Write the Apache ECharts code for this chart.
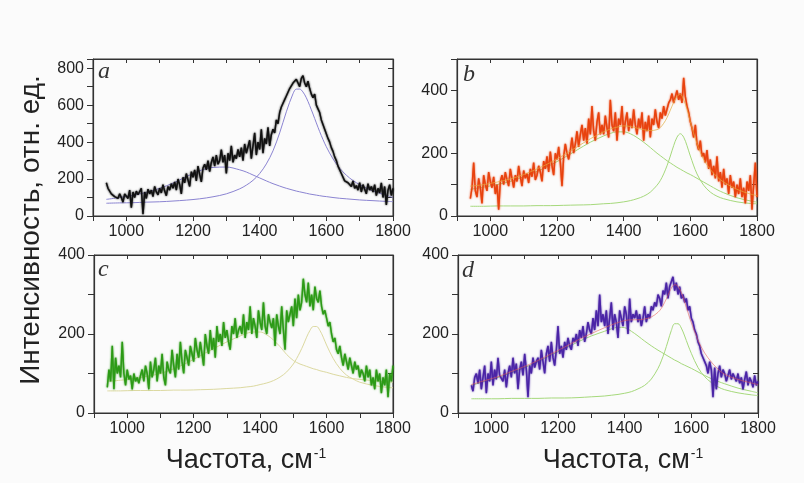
<!DOCTYPE html>
<html>
<head>
<meta charset="utf-8">
<script src="https://cdn.jsdelivr.net/npm/echarts@6/dist/echarts.min.js"></script>
<style>
html,body{margin:0;padding:0;background:#fbfbfb;}
#chart{width:804px;height:483px;}
</style>
</head>
<body>
<div id="chart"></div>
<script>
// spectra sampled every 5 cm-1 starting at 940 cm-1
const waveStart = 940;
const waveStep = 5;

const spectrumA = [
180,150,135,120,115,105,110,95,120,100,75,120,110,95,140,45,130,100,135,115,
110,150,10,130,95,145,120,140,105,160,130,115,150,125,170,135,110,160,140,175,
150,185,140,200,170,120,210,180,230,195,160,240,210,250,190,270,225,185,260,280,
250,300,240,290,320,270,330,280,300,360,290,330,230,340,300,380,290,330,310,360,
320,370,300,390,340,350,410,310,380,450,330,400,360,470,340,420,390,480,380,440,
470,450,520,500,560,590,580,630,650,640,690,700,720,710,740,720,700,745,760,720,
700,730,690,660,640,660,600,580,560,520,510,470,460,420,400,370,350,320,300,270,
260,230,220,190,200,180,175,160,190,150,165,140,180,130,170,145,120,175,140,160,
130,170,110,150,125,180,100,160,60,140,170,110,150];

const spectrumB = [
55,90,170,80,60,120,90,40,130,100,80,140,110,90,125,70,100,20,110,130,
100,140,115,95,150,120,90,130,110,160,125,95,145,120,135,105,150,125,170,115,
130,160,140,110,175,150,190,140,205,160,130,200,180,220,170,95,190,230,200,180,
210,250,200,230,270,220,260,290,240,280,230,310,260,350,270,240,300,330,260,290,
260,320,280,250,370,290,270,330,240,310,290,350,260,300,330,270,310,280,340,290,
260,310,280,330,240,300,270,320,250,310,290,340,300,280,330,310,350,320,340,360,
370,390,360,380,400,370,390,360,440,380,350,330,300,280,250,290,230,210,240,190,
200,170,210,150,180,130,160,120,190,110,140,90,150,100,120,70,130,90,110,60,
100,70,120,60,90,40,110,80,130,20,100,170,60];

const spectrumC = [
65,110,80,170,60,140,100,120,90,180,100,70,110,85,95,60,100,80,90,75,
95,110,80,120,100,60,130,90,110,140,80,120,100,150,90,70,130,110,100,160,
120,90,150,110,180,130,100,160,140,120,170,150,130,190,160,140,180,150,120,200,
170,150,210,160,190,140,220,180,200,170,230,190,210,180,160,220,200,240,190,210,
220,200,250,190,230,210,270,200,240,220,190,260,230,210,280,220,200,250,230,215,
240,170,250,220,200,270,210,160,260,230,250,270,220,290,240,300,260,280,340,300,
280,330,270,300,260,320,290,280,310,270,250,260,240,220,230,200,180,190,160,150,
170,140,120,150,130,110,140,120,100,130,110,120,90,110,100,80,120,90,110,70,
90,60,110,80,100,50,90,70,110,40,100,80,120];

const spectrumD = [
70,55,90,100,75,110,60,90,120,50,100,80,130,70,110,85,140,95,100,80,
110,65,100,120,90,140,100,125,60,110,130,95,150,110,40,120,100,140,115,130,
140,110,160,130,100,150,170,130,180,140,120,160,220,150,170,140,180,160,190,170,
160,190,180,200,170,210,190,220,180,200,230,210,200,240,210,260,220,300,230,250,
220,260,200,240,280,210,250,230,190,260,240,220,270,250,200,290,230,250,240,260,
230,250,220,240,270,230,250,240,270,260,280,270,300,290,270,310,300,330,290,320,
320,345,310,330,300,320,290,300,280,290,260,270,240,230,210,200,180,170,150,140,
130,120,100,130,110,40,115,60,100,120,90,110,100,80,95,110,85,100,90,80,
100,75,90,60,85,105,70,90,80,65,95,70,80];

// fitted components, sampled on fitX
const fitX = [940,980,1020,1060,1100,1140,1180,1220,1260,1300,1340,1360,1380,1400,1420,1440,1460,1480,1500,1510,1520,1530,1540,1550,1560,1570,1580,1590,1600,1620,1640,1660,1680,1700,1740,1780,1800];

const bandA1 = [90,100,112,128,150,178,213,245,263,265,250,238,222,206,190,175,162,150,140,135,131,127,123,119,116,113,110,107,105,100,96,93,90,87,83,79,78];
const bandA2 = [69,71,72,75,77,81,86,93,104,120,147,167,193,230,282,353,450,564,662,687,687,671,640,598,552,504,457,414,375,309,259,221,192,170,135,112,100];

const bandB1 = [85,92,100,110,125,142,162,185,210,235,255,263,268,268,262,250,235,218,200,192,184,176,169,162,155,149,143,137,132,120,108,96,84,74,58,48,44];
const bandB2 = [31,31,32,32,32,33,33,34,35,36,39,40,42,45,49,55,63,76,98,113,134,160,191,224,251,262,251,224,191,134,98,76,63,55,45,40,39];
const sumB = [95,100,108,118,132,150,170,194,220,246,268,277,283,287,285,280,275,272,275,282,295,313,337,362,381,388,370,341,300,230,180,148,125,108,85,70,65];

const bandC1 = [80,83,87,93,100,112,127,145,163,180,195,202,205,205,198,185,168,148,133,128,124,121,118,115,112,110,107,105,103,98,94,90,87,85,82,79,78];
const bandC2 = [56,56,57,57,57,58,58,59,60,62,64,66,68,72,76,82,91,104,124,138,154,172,192,209,219,219,209,192,172,138,113,96,86,78,70,65,64];

const bandD1 = [70,80,90,102,115,130,147,163,180,195,207,213,217,216,207,195,182,170,159,154,149,144,139,134,130,125,121,117,113,104,95,87,80,74,63,55,51];
const bandD2 = [36,36,36,37,37,37,38,38,39,41,43,45,47,50,54,61,70,86,113,132,155,182,209,226,226,215,195,172,151,115,92,77,66,59,51,46,44];
const sumD = [72,82,92,105,118,133,150,167,185,201,216,223,229,234,236,236,238,243,255,265,280,298,316,325,321,305,281,254,229,184,152,129,111,98,85,76,72];

const panelLetters = ['a','b','c','d'];
const yMaxes = [850, 500, 400, 400];
const xMin = 900, xMax = 1800;

const grids = [
  {left:93, top:59, width:300, height:157},
  {left:457, top:59, width:300, height:157},
  {left:94, top:255, width:299, height:158},
  {left:458, top:255, width:300, height:158}
];

function toSpectrum(arr){ return arr.map((v,i)=>[waveStart + waveStep*i, v]); }
function toFit(arr){ return arr.map((v,i)=>[fitX[i], v]); }

const axisColor = '#333';
const xAxes = [], yAxes = [];
grids.forEach((g,i)=>{
  xAxes.push({gridIndex:i, type:'value', min:xMin, max:xMax, interval:100, position:'bottom',
    axisLine:{onZero:false, lineStyle:{color:axisColor, width:1.2}},
    axisTick:{length:5, lineStyle:{color:axisColor}},
    axisLabel:{formatter:v=> (v%200===0 && v>=1000) ? String(v) : '', fontSize:16, color:'#222', margin:8, fontFamily:'Liberation Sans'},
    splitLine:{show:false}});
  xAxes.push({gridIndex:i, type:'value', min:xMin, max:xMax, interval:100, position:'top',
    axisLine:{onZero:false, lineStyle:{color:axisColor, width:1.2}},
    axisTick:{inside:true, length:4, lineStyle:{color:axisColor}},
    axisLabel:{show:false}, splitLine:{show:false}});
  yAxes.push({gridIndex:i, type:'value', min:0, max:yMaxes[i], interval:100, position:'left',
    axisLine:{onZero:false, lineStyle:{color:axisColor, width:1.2}},
    axisTick:{length:6, lineStyle:{color:axisColor}},
    axisLabel:{formatter:v=> (v%200===0) ? String(v) : '', fontSize:16, color:'#222', margin:9, fontFamily:'Liberation Sans'},
    splitLine:{show:false}});
  yAxes.push({gridIndex:i, type:'value', min:0, max:yMaxes[i], interval:100, position:'right',
    axisLine:{onZero:false, lineStyle:{color:axisColor, width:1.2}},
    axisTick:{inside:true, length:5, lineStyle:{color:axisColor}},
    axisLabel:{show:false}, splitLine:{show:false}});
});

function fitSeries(panel, arr, color, width, z){
  return {type:'line', xAxisIndex:panel*2, yAxisIndex:panel*2, data:toFit(arr), smooth:0.35,
    showSymbol:false, lineStyle:{color:color, width:width}, z:z, silent:true};
}
function dataSeries(panel, arr, color){
  return {type:'line', xAxisIndex:panel*2, yAxisIndex:panel*2, data:toSpectrum(arr),
    showSymbol:false, lineStyle:{color:color, width:1.5, shadowBlur:2, shadowColor:color}, z:3, silent:true};
}

const series = [
  fitSeries(0, bandA1, '#8b84d2', 1, 2),
  fitSeries(0, bandA2, '#8b84d2', 1, 2),
  dataSeries(0, spectrumA, '#111111'),
  fitSeries(1, bandB1, '#a6d97c', 1, 2),
  fitSeries(1, bandB2, '#a6d97c', 1, 2),
  dataSeries(1, spectrumB, '#e8420e'),
  fitSeries(1, sumB, 'rgba(226,170,60,0.7)', 1, 4),
  fitSeries(2, bandC1, '#dcd9a0', 1, 2),
  fitSeries(2, bandC2, '#dcd9a0', 1, 2),
  dataSeries(2, spectrumC, '#2c9a16'),
  fitSeries(3, bandD1, '#a6d97c', 1, 2),
  fitSeries(3, bandD2, '#a6d97c', 1, 2),
  dataSeries(3, spectrumD, '#4a24a6'),
  fitSeries(3, sumD, 'rgba(232,90,80,0.55)', 1, 4)
];

const letterPos = [[98,72],[463,75],[98,270],[462,271]];
const graphics = panelLetters.map((t,i)=>({type:'text', x:letterPos[i][0], y:letterPos[i][1], z:10,
  style:{text:t, font:'italic 24px "Liberation Serif"', fill:'#333', align:'left', verticalAlign:'middle'}}));

graphics.push({type:'text', x:31, y:230, rotation:Math.PI/2, z:10,
  style:{text:'Интенсивность, отн. ед.', font:'28px "Liberation Sans"', fill:'#222', align:'center', verticalAlign:'middle'}});

[[246,461],[623,461]].forEach(p=>{
  graphics.push({type:'text', x:p[0], y:p[1], z:10,
    style:{text:'{m|Частота, см}{s|-1}', align:'center', verticalAlign:'middle',
      rich:{m:{fontSize:27, fontFamily:'Liberation Sans', fill:'#222'},
            s:{fontSize:14, fontFamily:'Liberation Sans', fill:'#222', padding:[0,0,14,1]}}}});
});

const chart = echarts.init(document.getElementById('chart'), null, {renderer:'canvas'});
chart.setOption({
  backgroundColor:'#fbfbfb',
  animation:false,
  grid: grids.map(g=>Object.assign({show:true, borderColor:axisColor, borderWidth:1, backgroundColor:'transparent'}, g)),
  xAxis:xAxes,
  yAxis:yAxes,
  series:series,
  graphic:graphics
});
</script>
</body>
</html>
